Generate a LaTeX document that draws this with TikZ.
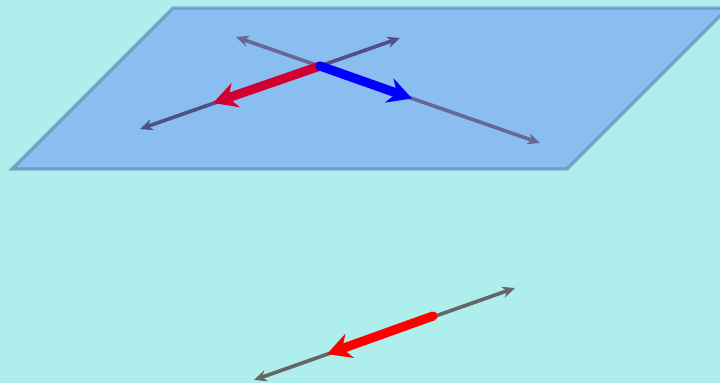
\documentclass[tikz,border=0pt]{standalone}
\usepackage{tikz}
\usetikzlibrary{arrows.meta}
\definecolor{skybg}{RGB}{174,238,236}
\definecolor{planefill}{RGB}{139,190,240}
\definecolor{planeedge}{RGB}{90,130,170}
\definecolor{lineA}{RGB}{104,104,150}
\definecolor{lineB}{RGB}{80,80,136}
\definecolor{vecred}{RGB}{210,0,50}
\definecolor{vecblue}{RGB}{0,0,255}
\definecolor{vecbright}{RGB}{255,0,0}
\definecolor{linegray}{RGB}{102,102,102}
\tikzset{
    plane/.style={fill=planefill, draw=planeedge, draw opacity=0.6, line width=2.4pt, line join=miter},
    axis/.style={line width=2.6pt, {Stealth[length=9pt,width=8pt]}-{Stealth[length=9pt,width=8pt]}},
    vec/.style={line width=6.5pt, line cap=round, -{Stealth[length=17pt,width=18pt]}},
}
\begin{document}
\begin{tikzpicture}[x=0.025cm, y=-0.025cm]
    % background and frame
    \useasboundingbox (0,0) rectangle (720,383);
    \fill[skybg] (0,0) rectangle (720,383);
    \clip (0,0) rectangle (720,383);
    % the plane
    \draw[plane] (12,169) -- (173,8) -- (728,8) -- (567,169) -- cycle;
    % lines in the plane
    \coordinate (A1) at (236,37);
    \coordinate (A2) at (540,143);
    \coordinate (B1) at (140,129);
    \coordinate (B2) at (400,38);
    \coordinate (O) at (320,66);
    \draw[axis, lineA] (A1) -- (A2);
    \draw[axis, lineB] (B1) -- (B2);
    % vectors from the crossing point
    \coordinate (R) at (213,103);
    \coordinate (U) at (412,98.5);
    \draw[vec, vecred] (O) -- (R);
    \draw[vec, vecblue] (O) -- (U);
    % line below the plane
    \coordinate (C1) at (254,380);
    \coordinate (C2) at (515,288);
    \coordinate (P) at (433,316);
    \coordinate (Q) at (327,354);
    \draw[axis, linegray] (C1) -- (C2);
    \draw[vec, vecbright] (P) -- (Q);
\end{tikzpicture}
\end{document}
